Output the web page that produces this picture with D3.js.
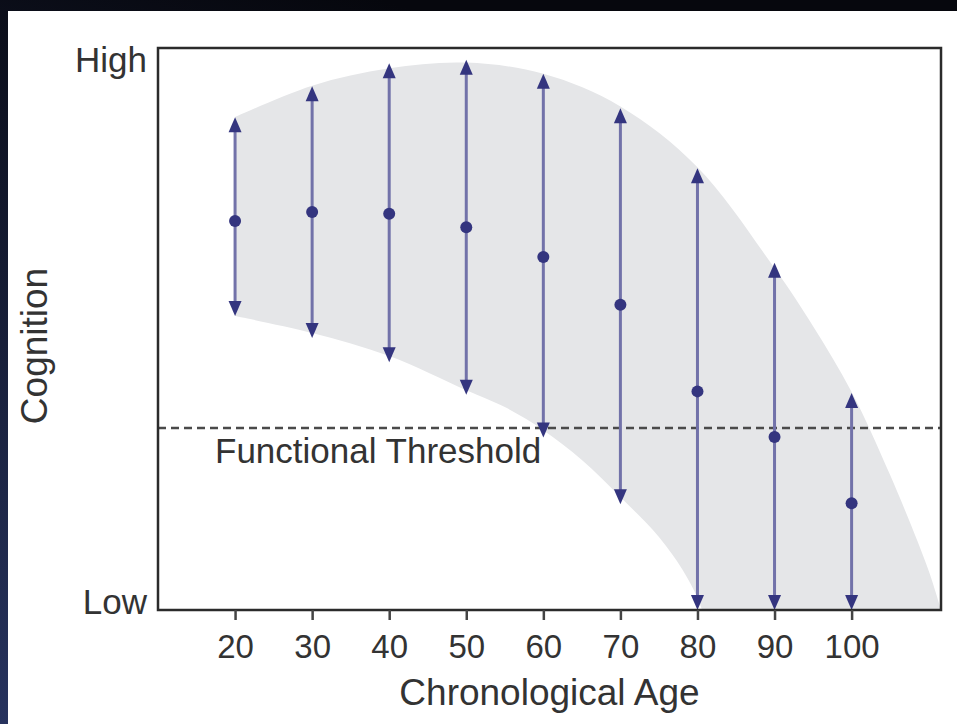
<!DOCTYPE html>
<html>
<head>
<meta charset="utf-8">
<script src="https://cdn.jsdelivr.net/npm/d3@7"></script>
<style>
  html, body { margin: 0; padding: 0; background: #070910; }
  svg { display: block; }
  .lbl { font-family: "Liberation Sans", Arial, sans-serif; fill: #333; }
</style>
</head>
<body>
<div id="chart"></div>
<script>
// Cognition vs chronological age — range arrows per decade

// Arrows (cognition on a 0 = Low .. 100 = High scale)
const AGES       = [20, 30, 40, 50, 60, 70, 80, 90, 100];
const COG_HIGH   = [87.7, 93.2, 97.3, 97.9, 95.4, 89.3, 78.6, 61.8, 38.6];
const COG_MEAN   = [69.2, 70.8, 70.5, 68.1, 62.8, 54.3, 38.9, 30.8, 19.0];
const COG_LOW    = [52.3, 48.4, 44.1, 38.3, 30.7, 18.8, 0, 0, 0];

// Shaded envelope (upper and lower edges)
const ENV_UP_AGES = [20, 30, 40, 50, 60, 70, 80, 90, 95, 100, 105, 110, 111.6];
const ENV_UPPER   = [87.7, 93.3, 96.4, 97.4, 95.4, 89.6, 78.8, 60.8, 50.5, 38.8, 24, 7, 0];
const ENV_LO_AGES = [20, 30, 40, 50, 55, 60, 65, 70, 75, 78, 80, 80.6];
const ENV_LOWER   = [52.3, 49.3, 45.2, 39.1, 36.1, 32, 26.7, 20.1, 13, 7.3, 2.2, 0];

const THRESHOLD  = 32.4;
const THRESHOLD_LABEL = "Functional Threshold";
const X_DOMAIN   = [10, 111.6];
const Y_LABELS   = [{ v: 100, text: "High", dy: 24 }, { v: 0, text: "Low", dy: 4 }];
const X_TITLE    = "Chronological Age";
const Y_TITLE    = "Cognition";

const W = 957, H = 724;
const box = { left: 158, top: 48, right: 941, bottom: 610 };

const svg = d3.select("#chart").append("svg")
  .attr("width", W).attr("height", H);

// fond "diapo" sombre + panneau blanc
const defs = svg.append("defs");
const bg = defs.append("linearGradient").attr("id", "bg")
  .attr("x1", 0).attr("y1", 1).attr("x2", 0.4).attr("y2", 0);
bg.append("stop").attr("offset", 0).attr("stop-color", "#27335e");
bg.append("stop").attr("offset", 1).attr("stop-color", "#06070d");
defs.append("clipPath").attr("id", "plot")
  .append("rect")
    .attr("x", box.left).attr("y", box.top)
    .attr("width", box.right - box.left).attr("height", box.bottom - box.top);

svg.append("rect").attr("width", W).attr("height", H).attr("fill", "url(#bg)");
svg.append("rect").attr("x", 8).attr("y", 11).attr("width", W - 8).attr("height", H - 11).attr("fill", "#fff");

const x = d3.scaleLinear().domain(X_DOMAIN).range([box.left, box.right]);
const y = d3.scaleLinear().domain([0, 100]).range([box.bottom, box.top]);

// enveloppe grise : bord haut puis bord bas à rebours
const upper = ENV_UP_AGES.map((a, i) => [x(a), y(ENV_UPPER[i])]);
const lower = ENV_LO_AGES.map((a, i) => [x(a), y(ENV_LOWER[i])]).reverse();
const smooth = d3.line().curve(d3.curveCatmullRom.alpha(0.5));
svg.append("path")
  .attr("clip-path", "url(#plot)")
  .attr("fill", "#e5e6e8")
  .attr("d", smooth(upper) + "L" + smooth(lower).slice(1) + "Z");

// seuil fonctionnel
svg.append("line")
  .attr("x1", box.left).attr("x2", box.right)
  .attr("y1", y(THRESHOLD)).attr("y2", y(THRESHOLD))
  .attr("stroke", "#4a4a4a").attr("stroke-width", 2.5)
  .attr("stroke-dasharray", "8 5");

svg.append("text").attr("class", "lbl")
  .attr("x", 215).attr("y", y(THRESHOLD) + 35)
  .style("font-size", "35px")
  .text(THRESHOLD_LABEL);

// flèches
const arrows = AGES.map((a, i) => ({ a, hi: COG_HIGH[i], mean: COG_MEAN[i], lo: COG_LOW[i] }));
const headW = 6.5, headH = 15;
const ag = svg.append("g");
ag.selectAll("line")
  .data(arrows)
  .join("line")
    .attr("x1", d => x(d.a)).attr("x2", d => x(d.a))
    .attr("y1", d => y(d.hi) + 6).attr("y2", d => y(d.lo) - 6)
    .attr("stroke", "#7272a9").attr("stroke-width", 3);

ag.selectAll("path.up")
  .data(arrows)
  .join("path")
    .attr("class", "up")
    .attr("fill", "#34357f")
    .attr("d", d => {
      const cx = x(d.a), ty = y(d.hi);
      return `M${cx},${ty}L${cx + headW},${ty + headH}L${cx - headW},${ty + headH}Z`;
    });

ag.selectAll("path.down")
  .data(arrows)
  .join("path")
    .attr("class", "down")
    .attr("fill", "#34357f")
    .attr("d", d => {
      const cx = x(d.a), ty = y(d.lo);
      return `M${cx},${ty}L${cx + headW},${ty - headH}L${cx - headW},${ty - headH}Z`;
    });

ag.selectAll("circle")
  .data(arrows)
  .join("circle")
    .attr("cx", d => x(d.a)).attr("cy", d => y(d.mean))
    .attr("r", 6)
    .attr("fill", "#34357f");

// cadre
svg.append("rect")
  .attr("x", box.left).attr("y", box.top)
  .attr("width", box.right - box.left).attr("height", box.bottom - box.top)
  .attr("fill", "none").attr("stroke", "#2b2b2b").attr("stroke-width", 2.5);

// axe X
const xAxis = svg.append("g")
  .attr("transform", `translate(0,${box.bottom})`)
  .call(d3.axisBottom(x).tickValues(AGES).tickSize(10).tickFormat(d3.format("d")));
xAxis.select(".domain").remove();
xAxis.selectAll(".tick line").attr("stroke", "#444").attr("stroke-width", 2.5);
xAxis.selectAll(".tick text")
  .attr("class", "lbl")
  .attr("y", 48).attr("dy", null)
  .attr("fill", "#333")
  .style("font-size", "33px");

// libellés Y
svg.selectAll("text.ylab")
  .data(Y_LABELS)
  .join("text")
    .attr("class", "lbl ylab")
    .attr("x", box.left - 11)
    .attr("y", d => y(d.v) + d.dy)
    .attr("text-anchor", "end")
    .style("font-size", "35px")
    .text(d => d.text);

// titres
svg.append("text").attr("class", "lbl")
  .attr("x", (box.left + box.right) / 2).attr("y", 705)
  .attr("text-anchor", "middle")
  .style("font-size", "37px")
  .text(X_TITLE);

svg.append("text").attr("class", "lbl")
  .attr("transform", `translate(47,${(box.top + box.bottom) / 2 + 17}) rotate(-90)`)
  .attr("text-anchor", "middle")
  .style("font-size", "37px")
  .text(Y_TITLE);
</script>
</body>
</html>
